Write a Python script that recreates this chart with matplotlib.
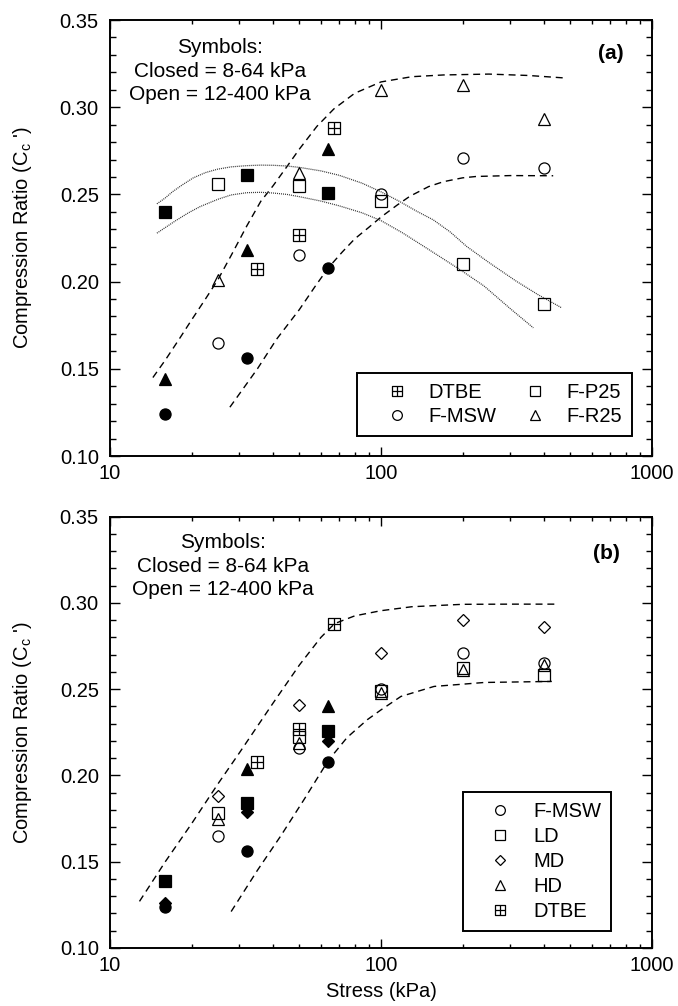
import numpy as np
import matplotlib.pyplot as plt
from matplotlib.path import Path
from matplotlib.lines import Line2D
from matplotlib.ticker import MultipleLocator, FuncFormatter, NullFormatter

plt.rcParams['font.family'] = ['Liberation Sans', 'DejaVu Sans']
plt.rcParams['mathtext.fontset'] = 'custom'
plt.rcParams['mathtext.rm'] = 'Liberation Sans'

# ---------------- panel (a) data ----------------
a_msw_closed_x = [16, 32, 64]
a_msw_closed_y = [0.124, 0.156, 0.208]
a_msw_open_x = [25, 50, 100, 200, 400]
a_msw_open_y = [0.165, 0.215, 0.250, 0.271, 0.265]

a_p25_closed_x = [16, 32, 64]
a_p25_closed_y = [0.240, 0.261, 0.251]
a_p25_open_x = [25, 50, 100, 200, 400]
a_p25_open_y = [0.256, 0.255, 0.246, 0.210, 0.187]

a_r25_closed_x = [16, 32, 64]
a_r25_closed_y = [0.144, 0.218, 0.276]
a_r25_open_x = [25, 50, 100, 200, 400]
a_r25_open_y = [0.201, 0.262, 0.310, 0.313, 0.293]

a_dtbe_x = [35, 50, 67]
a_dtbe_y = [0.207, 0.2265, 0.288]

# bounding curves
a_upper_dash_x = [14.4, 16, 18, 20, 22.5, 25, 28, 32, 36, 40, 45, 50, 58, 67, 80, 100,
                  130, 170, 250, 350, 484]
a_upper_dash_y = [0.145, 0.155, 0.167, 0.178, 0.190, 0.201, 0.215, 0.232, 0.246, 0.255,
                  0.266, 0.276, 0.289, 0.299, 0.308, 0.3145, 0.3175, 0.3185, 0.319,
                  0.3182, 0.3167]
a_lower_dash_x = [27.7, 35, 41.2, 50, 57, 64, 72, 80, 90, 100, 115, 128, 150, 170, 200,
                  225, 300, 432]
a_lower_dash_y = [0.128, 0.150, 0.167, 0.184, 0.197, 0.208, 0.217, 0.2245, 0.231, 0.237,
                  0.244, 0.249, 0.2545, 0.2573, 0.2595, 0.2603, 0.2608, 0.2607]
a_upper_dot_x = [14.9, 16, 17, 18.5, 20.3, 22.5, 25, 28, 32, 36, 40, 45, 50, 60, 70, 85,
                 100, 117, 135, 156, 180, 207, 250, 316, 380, 464]
a_upper_dot_y = [0.2446, 0.2480, 0.2515, 0.2555, 0.2595, 0.2625, 0.2645, 0.2658, 0.2665,
                 0.2668, 0.2667, 0.2663, 0.2655, 0.2635, 0.2610, 0.2565, 0.2515, 0.2460,
                 0.2405, 0.2354, 0.2285, 0.2202, 0.2110, 0.2002, 0.1925, 0.1850]
a_lower_dot_x = [14.9, 16, 17.5, 19.5, 21.5, 25, 28, 32, 36, 40, 45, 50, 60, 70, 85, 100,
                 120, 147, 170, 200, 240, 300, 365]
a_lower_dot_y = [0.2278, 0.2310, 0.2350, 0.2395, 0.2430, 0.2472, 0.2497, 0.2510, 0.2512,
                 0.2508, 0.2500, 0.2487, 0.2462, 0.2435, 0.2395, 0.2350, 0.2280, 0.2193,
                 0.2130, 0.2059, 0.1975, 0.1845, 0.1735]

# ---------------- panel (b) data ----------------
b_msw_closed_x = [16, 32, 64]
b_msw_closed_y = [0.124, 0.156, 0.208]
b_msw_open_x = [25, 50, 100, 200, 400]
b_msw_open_y = [0.165, 0.216, 0.250, 0.271, 0.265]

b_ld_closed_x = [16, 32, 64]
b_ld_closed_y = [0.139, 0.184, 0.226]
b_ld_open_x = [25, 50, 100, 200, 400]
b_ld_open_y = [0.178, 0.2225, 0.249, 0.262, 0.258]

b_md_closed_x = [16, 32, 64]
b_md_closed_y = [0.126, 0.179, 0.220]
b_md_open_x = [25, 50, 100, 200, 400]
b_md_open_y = [0.188, 0.241, 0.271, 0.290, 0.286]

b_hd_closed_x = [32, 64]
b_hd_closed_y = [0.204, 0.240]
b_hd_open_x = [25, 50, 100, 200, 400]
b_hd_open_y = [0.175, 0.219, 0.248, 0.261, 0.264]

b_dtbe_x = [35, 50, 67]
b_dtbe_y = [0.208, 0.227, 0.288]

b_upper_dash_x = [12.85, 16, 20, 25, 30, 40, 50, 60, 67.4, 80, 100, 130, 200, 300, 451]
b_upper_dash_y = [0.127, 0.150, 0.172, 0.195, 0.213, 0.242, 0.264, 0.280, 0.288, 0.2925,
                  0.2955, 0.2978, 0.2992, 0.2993, 0.2993]
b_lower_dash_x = [28, 35, 42.7, 52, 64, 75, 89, 100, 118.5, 157, 241, 427]
b_lower_dash_y = [0.1211, 0.145, 0.165, 0.186, 0.2088, 0.222, 0.2323, 0.238, 0.2458,
                  0.2516, 0.2539, 0.2545]

# square with a cross inside (DTBE symbol)
box_cross = Path([(-1, -1), (1, -1), (1, 1), (-1, 1), (-1, -1), (0, -1), (0, 1), (-1, 0), (1, 0)],
                 [Path.MOVETO, Path.LINETO, Path.LINETO, Path.LINETO, Path.CLOSEPOLY,
                  Path.MOVETO, Path.LINETO, Path.MOVETO, Path.LINETO])

MS = 8
sizes = {'o': MS, 's': MS, '^': MS, 'D': 6.2}


def pts(ax, x, y, m, filled):
    ms = sizes.get(m, MS) if isinstance(m, str) else MS
    ax.plot(x, y, ls='none', marker=m, ms=ms, mfc='k' if filled else 'none',
            mec='k', mew=0.9, zorder=3)


def style(ax):
    ax.set_xscale('log')
    ax.set_xlim(10, 1000)
    ax.set_ylim(0.10, 0.35)
    ax.yaxis.set_major_locator(MultipleLocator(0.05))
    ax.yaxis.set_minor_locator(MultipleLocator(0.01))
    ax.yaxis.set_major_formatter(FuncFormatter(lambda v, p: f'{v:.2f}'))
    ax.xaxis.set_major_formatter(FuncFormatter(lambda v, p: f'{v:g}'))
    ax.xaxis.set_minor_formatter(NullFormatter())
    ax.tick_params(which='both', direction='in', top=True, right=True, width=1.0,
                   labelsize=14.5)
    ax.tick_params(axis='x', which='major', length=6.5, pad=6)
    ax.tick_params(axis='x', which='minor', length=3.2)
    ax.tick_params(axis='y', which='major', length=7, pad=8)
    ax.tick_params(axis='y', which='minor', length=4.3)
    for s in ax.spines.values():
        s.set_linewidth(1.4)
    ax.set_ylabel("Compression Ratio (C$_\\mathrm{c}$ ')", fontsize=14.5)
    ax.yaxis.set_label_coords(-0.14, 0.5)


fig = plt.figure(figsize=(6.78, 10.06), dpi=100)
ax1 = fig.add_axes([0.1622, 0.5467, 0.7994, 0.4334])
ax2 = fig.add_axes([0.1622, 0.0577, 0.7994, 0.4287])

dash = (0, (5, 3.5))
dot = (0, (0.8, 0.8))

# ---- (a)
ax1.plot(a_upper_dash_x, a_upper_dash_y, color='k', lw=1.0, ls=dash)
ax1.plot(a_lower_dash_x, a_lower_dash_y, color='k', lw=1.0, ls=dash)
ax1.plot(a_upper_dot_x, a_upper_dot_y, color='#333333', lw=0.9, ls=dot)
ax1.plot(a_lower_dot_x, a_lower_dot_y, color='#333333', lw=0.9, ls=dot)

pts(ax1, a_msw_closed_x, a_msw_closed_y, 'o', True)
pts(ax1, a_msw_open_x, a_msw_open_y, 'o', False)
pts(ax1, a_p25_closed_x, a_p25_closed_y, 's', True)
pts(ax1, a_p25_open_x, a_p25_open_y, 's', False)
pts(ax1, a_r25_closed_x, a_r25_closed_y, '^', True)
pts(ax1, a_r25_open_x, a_r25_open_y, '^', False)
pts(ax1, a_dtbe_x, a_dtbe_y, box_cross, False)

style(ax1)
ax1.text(0.203, 0.882, 'Symbols:\nClosed = 8-64 kPa\nOpen = 12-400 kPa', transform=ax1.transAxes,
         ha='center', va='center', multialignment='center', fontsize=15, linespacing=1.3)
ax1.text(0.924, 0.924, '(a)', transform=ax1.transAxes, ha='center', va='center',
         fontsize=15, fontweight='bold')

leg_kw = dict(ls='none', color='k', mfc='none', mec='k', mew=0.9)
h_a = [Line2D([], [], marker=box_cross, ms=7, **leg_kw),
       Line2D([], [], marker='o', ms=7, **leg_kw),
       Line2D([], [], marker='s', ms=7, **leg_kw),
       Line2D([], [], marker='^', ms=7, **leg_kw)]
leg = ax1.legend(h_a, ['DTBE', 'F-MSW', 'F-P25', 'F-R25'], ncol=2, loc='upper left',
                 bbox_to_anchor=(0.456, 0.190), borderaxespad=0, fontsize=14.5,
                 borderpad=0.5, handlelength=3.0, handletextpad=0.05, columnspacing=0.4,
                 labelspacing=0.22, fancybox=False, framealpha=1, edgecolor='k')
leg.get_frame().set_linewidth(1.4)

# ---- (b)
ax2.plot(b_upper_dash_x, b_upper_dash_y, color='k', lw=1.0, ls=dash)
ax2.plot(b_lower_dash_x, b_lower_dash_y, color='k', lw=1.0, ls=dash)

pts(ax2, b_msw_closed_x, b_msw_closed_y, 'o', True)
pts(ax2, b_msw_open_x, b_msw_open_y, 'o', False)
pts(ax2, b_ld_closed_x, b_ld_closed_y, 's', True)
pts(ax2, b_ld_open_x, b_ld_open_y, 's', False)
pts(ax2, b_md_closed_x, b_md_closed_y, 'D', True)
pts(ax2, b_md_open_x, b_md_open_y, 'D', False)
pts(ax2, b_hd_closed_x, b_hd_closed_y, '^', True)
pts(ax2, b_hd_open_x, b_hd_open_y, '^', False)
pts(ax2, b_dtbe_x, b_dtbe_y, box_cross, False)

style(ax2)
ax2.set_xlabel('Stress (kPa)', fontsize=14.5)
ax2.xaxis.set_label_coords(0.5, -0.078)
ax2.text(0.208, 0.885, 'Symbols:\nClosed = 8-64 kPa\nOpen = 12-400 kPa', transform=ax2.transAxes,
         ha='center', va='center', multialignment='center', fontsize=15, linespacing=1.3)
ax2.text(0.916, 0.915, '(b)', transform=ax2.transAxes, ha='center', va='center',
         fontsize=15, fontweight='bold')

h_b = [Line2D([], [], marker='o', ms=7, **leg_kw),
       Line2D([], [], marker='s', ms=7, **leg_kw),
       Line2D([], [], marker='D', ms=5.5, **leg_kw),
       Line2D([], [], marker='^', ms=7, **leg_kw),
       Line2D([], [], marker=box_cross, ms=7, **leg_kw)]
leg2 = ax2.legend(h_b, ['F-MSW', 'LD', 'MD', 'HD', 'DTBE'], loc='upper left',
                  bbox_to_anchor=(0.651, 0.3624), borderaxespad=0, fontsize=14.5,
                  borderpad=0.5, handlelength=2.7, handletextpad=0.3,
                  labelspacing=0.3, fancybox=False, framealpha=1, edgecolor='k')
leg2.get_frame().set_linewidth(1.4)

fig.savefig('out.png', dpi=100)
